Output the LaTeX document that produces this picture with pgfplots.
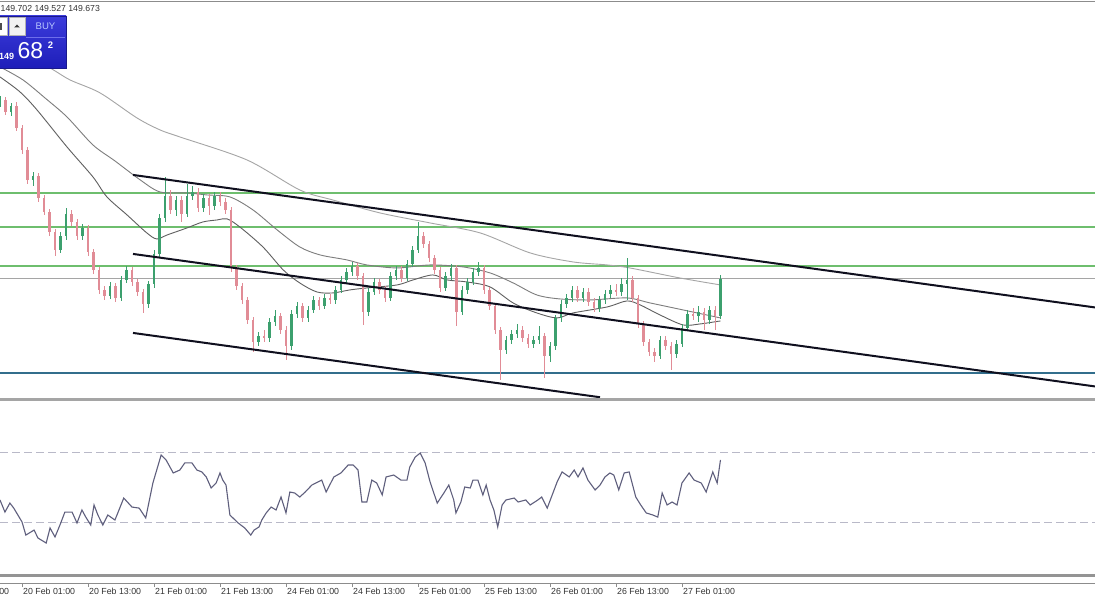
\documentclass[border=0pt]{standalone}
\usepackage{pgfplots}
\pgfplotsset{compat=1.18}
\usepackage{pgfplotstable}
\usepackage{fontspec}
\setmainfont{Liberation Sans}
\definecolor{cgreen}{RGB}{60,160,110}
\definecolor{cred}{RGB}{225,140,150}
\definecolor{maA}{RGB}{95,95,95}
\definecolor{maB}{RGB}{125,125,125}
\definecolor{maC}{RGB}{165,165,165}
\definecolor{hgreen}{RGB}{110,190,110}
\definecolor{hteal}{RGB}{50,110,140}
\definecolor{bidgray}{RGB}{165,165,165}
\definecolor{trendc}{RGB}{15,15,30}
\definecolor{rsic}{RGB}{95,95,125}
\definecolor{rsilev}{RGB}{185,185,200}
\definecolor{sepgray}{RGB}{165,165,165}
\definecolor{buyTop}{RGB}{60,60,220}
\definecolor{buyBot}{RGB}{30,30,185}
\definecolor{buyEdge}{RGB}{25,25,140}
\definecolor{buyLine}{RGB}{110,110,235}
\definecolor{buyText}{RGB}{185,200,255}

\pgfplotstableread{
i o h l c
-4 151.42 151.50 151.39 151.46
-3 151.46 151.49 151.31 151.34
-2 151.34 151.43 151.30 151.40
-1 151.40 151.44 151.15 151.18
0 151.18 151.21 150.92 150.96
1 150.96 150.99 150.62 150.66
2 150.66 150.74 150.60 150.70
3 150.70 150.73 150.44 150.48
4 150.48 150.51 150.31 150.34
5 150.34 150.37 150.10 150.14
6 150.14 150.17 149.90 149.96
7 149.96 150.14 149.93 150.10
8 150.10 150.38 150.06 150.32
9 150.32 150.36 150.20 150.24
10 150.24 150.27 150.06 150.10
11 150.10 150.22 150.06 150.18
12 150.18 150.21 149.90 149.94
13 149.94 149.97 149.72 149.76
14 149.76 149.79 149.52 149.56
15 149.56 149.60 149.46 149.50
16 149.50 149.64 149.47 149.60
17 149.60 149.63 149.44 149.48
18 149.48 149.70 149.45 149.66
19 149.66 149.80 149.63 149.76
20 149.76 149.79 149.60 149.64
21 149.64 149.67 149.50 149.54
22 149.54 149.57 149.33 149.42
23 149.42 149.65 149.38 149.62
24 149.62 149.96 149.58 149.92
25 149.92 150.32 149.88 150.28
26 150.28 150.69 150.24 150.50
27 150.50 150.56 150.32 150.36
28 150.36 150.50 150.30 150.46
29 150.46 150.50 150.24 150.32
30 150.32 150.62 150.29 150.50
31 150.50 150.60 150.46 150.54
32 150.54 150.58 150.34 150.38
33 150.38 150.52 150.34 150.48
34 150.48 150.52 150.31 150.40
35 150.40 150.54 150.36 150.50
36 150.50 150.54 150.40 150.44
37 150.44 150.48 150.32 150.36
38 150.36 150.39 149.74 149.78
39 149.78 149.81 149.56 149.60
40 149.60 149.63 149.42 149.46
41 149.46 149.49 149.22 149.26
42 149.26 149.29 148.94 149.04
43 149.04 149.14 149.00 149.10
44 149.10 149.16 149.04 149.08
45 149.08 149.28 149.04 149.24
46 149.24 149.36 149.20 149.30
47 149.30 149.33 149.12 149.16
48 149.16 149.20 148.86 149.00
49 149.00 149.36 148.96 149.32
50 149.32 149.44 149.28 149.40
51 149.40 149.43 149.24 149.28
52 149.28 149.40 149.24 149.36
53 149.36 149.50 149.33 149.46
54 149.46 149.49 149.36 149.40
55 149.40 149.52 149.37 149.48
56 149.48 149.52 149.42 149.46
57 149.46 149.60 149.42 149.56
58 149.56 149.70 149.53 149.66
59 149.66 149.78 149.63 149.74
60 149.74 149.84 149.70 149.80
61 149.80 149.83 149.66 149.70
62 149.70 149.73 149.21 149.34
63 149.34 149.58 149.30 149.54
64 149.54 149.68 149.51 149.64
65 149.64 149.67 149.52 149.56
66 149.56 149.60 149.44 149.48
67 149.48 149.74 149.45 149.70
68 149.70 149.80 149.66 149.76
69 149.76 149.80 149.64 149.68
70 149.68 149.86 149.65 149.82
71 149.82 150.00 149.79 149.96
72 149.96 150.24 149.93 150.10
73 150.10 150.14 149.98 150.02
74 150.02 150.05 149.84 149.88
75 149.88 149.91 149.72 149.76
76 149.76 149.79 149.54 149.58
77 149.58 149.74 149.55 149.70
78 149.70 149.82 149.66 149.78
79 149.78 149.81 149.20 149.34
80 149.34 149.60 149.31 149.56
81 149.56 149.68 149.52 149.64
82 149.64 149.78 149.61 149.74
83 149.74 149.84 149.70 149.78
84 149.78 149.81 149.52 149.56
85 149.56 149.59 149.36 149.40
86 149.40 149.43 149.12 149.16
87 149.16 149.19 148.66 148.96
88 148.96 149.10 148.92 149.06
89 149.06 149.16 149.02 149.12
90 149.12 149.22 149.08 149.16
91 149.16 149.20 149.04 149.08
92 149.08 149.12 148.98 149.02
93 149.02 149.10 148.98 149.06
94 149.06 149.20 149.02 149.10
95 149.10 149.13 148.68 148.90
96 148.90 149.04 148.84 149.00
97 149.00 149.31 148.96 149.28
98 149.28 149.46 149.24 149.42
99 149.42 149.52 149.38 149.48
100 149.48 149.60 149.44 149.56
101 149.56 149.60 149.44 149.48
102 149.48 149.58 149.44 149.54
103 149.54 149.58 149.40 149.44
104 149.44 149.48 149.34 149.38
105 149.38 149.50 149.34 149.46
106 149.46 149.56 149.42 149.52
107 149.52 149.61 149.48 149.56
108 149.56 149.62 149.50 149.54
109 149.54 149.68 149.50 149.62
110 149.62 149.88 149.46 149.66
111 149.66 149.70 149.44 149.48
112 149.48 149.51 149.18 149.22
113 149.22 149.25 149.00 149.04
114 149.04 149.07 148.90 148.94
115 148.94 148.98 148.84 148.90
116 148.90 149.10 148.87 149.06
117 149.06 149.10 148.96 149.00
118 149.00 149.04 148.76 148.92
119 148.92 149.06 148.88 149.02
120 149.02 149.22 148.99 149.18
121 149.18 149.36 149.15 149.32
122 149.32 149.38 149.26 149.30
123 149.30 149.40 149.24 149.34
124 149.34 149.38 149.16 149.26
125 149.26 149.40 149.22 149.36
126 149.36 149.40 149.16 149.30
127 149.30 149.71 149.27 149.67
}\candles

\pgfplotstableread{
i p
-4 151.69
-0.36 151.54
2.73 151.36
8.18 150.99
12.9 150.69
15.45 150.49
19.1 150.31
22.7 150.13
24.5 150.07
26.4 150.11
30.0 150.18
32.9 150.24
35.5 150.26
37.3 150.27
39.6 150.19
43.8 149.99
47.5 149.76
50.5 149.63
53.6 149.54
56.5 149.53
59.6 149.56
62.7 149.58
68.2 149.61
71.1 149.66
74.7 149.71
77.3 149.66
80.9 149.64
85.1 149.59
89.3 149.43
93.6 149.33
97.3 149.28
100.2 149.33
106.4 149.39
110.0 149.45
112.4 149.41
116.0 149.31
120.2 149.21
123.3 149.22
127 149.25
}\maA

\pgfplotstableread{
i p
-4 151.79
0.18 151.66
4.18 151.48
8.18 151.29
12.9 151.01
16.9 150.85
21.5 150.66
25.1 150.54
30.0 150.53
33.6 150.51
37.8 150.49
42.0 150.36
46.4 150.16
50.5 149.99
54.2 149.91
59.1 149.86
62.7 149.81
68.2 149.78
74.2 149.81
80.2 149.79
85.1 149.73
89.3 149.63
93.6 149.51
97.8 149.47
103.3 149.46
110.0 149.48
114.2 149.43
120.2 149.36
127 149.28
}\maB

\pgfplotstableread{
i p
-4 152.06
5.09 151.78
8.73 151.66
14.2 151.53
20.9 151.28
25.1 151.16
28.7 151.09
40.9 150.86
50.5 150.56
56.5 150.46
65.1 150.33
74.2 150.23
83.3 150.13
92.4 149.93
100.2 149.84
106.4 149.81
110.5 149.78
119.6 149.68
127 149.61
}\maC

\pgfplotstableread{
i r
-4 42.8
-3.1 35.8
-2.2 41.0
-1.5 38.1
0 30.1
0.7 22.5
2.2 25.4
2.9 20.8
4.4 17.9
5.1 26.6
6.0 21.4
6.9 28.3
7.8 35.8
9.1 35.8
10.0 29.5
10.9 37.0
11.6 32.9
12.5 28.3
13.1 39.9
13.8 34.1
14.7 28.3
15.6 34.1
16.9 31.2
18.5 43.9
20.0 38.7
21.3 38.1
22.5 32.4
23.8 52.6
25.3 68.8
26.2 65.9
27.5 58.4
28.7 60.1
29.6 64.2
30.9 64.2
31.8 60.1
32.7 59.0
33.5 56.1
34.4 49.7
35.3 52.6
36.0 58.4
36.5 54.3
37.1 51.4
37.8 34.1
39.3 29.5
40.5 26.6
41.6 22.5
42.2 25.4
43.1 27.2
43.6 31.2
44.4 35.3
45.3 38.7
46.2 37.0
47.1 44.5
48.0 35.3
48.7 47.4
49.6 46.8
50.5 44.5
51.5 47.4
52.7 51.4
54.5 54.3
55.3 47.4
56.7 56.1
58.0 58.4
59.3 63.0
60.2 63.0
61.1 60.1
61.8 41.6
62.7 41.6
63.6 54.3
64.5 52.6
65.5 45.7
66.2 56.1
67.6 57.2
68.9 54.3
70.0 54.3
70.5 61.8
71.5 67.6
72.4 69.9
73.3 64.2
74.2 53.2
75.5 41.0
76.7 46.8
77.6 51.4
78.5 42.8
78.9 35.3
79.8 41.6
80.5 50.3
81.5 49.7
82.0 54.3
82.9 54.3
83.8 45.7
84.4 51.4
85.1 42.8
85.8 37.0
86.5 27.2
87.3 39.9
88.0 42.8
89.5 43.9
90.2 41.6
91.6 42.8
92.4 39.9
93.8 42.8
94.5 44.5
95.5 38.1
97.3 53.2
98.2 59.0
99.5 56.1
100.4 60.1
101.1 56.1
102.0 61.3
102.9 54.3
104.2 48.6
105.1 51.4
106.0 56.1
106.9 58.4
107.6 57.2
108.5 48.6
109.5 58.4
110.4 59.0
111.6 44.5
112.5 39.9
113.5 35.3
114.7 34.1
115.6 32.9
116.4 46.8
117.3 39.9
118.2 41.6
119.1 39.9
120.0 52.6
121.3 58.4
122.2 54.3
123.5 52.6
124.4 47.4
125.6 59.0
126.4 52.6
127 65.9
}\rsi

\begin{document}
\begin{tikzpicture}
\path[use as bounding box] (0pt,0pt) rectangle (1095pt,600pt);
\fill[white] (0pt,0pt) rectangle (1095pt,600pt);

% ---------------- main price panel ----------------
\begin{axis}[at={(0pt,202pt)}, anchor=south west, scale only axis,
  width=1095pt, height=396pt,
  xmin=-4, xmax=195.1, ymin=148.48, ymax=152.44,
  hide axis, clip=true]
% horizontal levels
\addplot[hgreen, line width=1.2pt] coordinates {(-4,150.53) (195.1,150.53)};
\addplot[hgreen, line width=1.2pt] coordinates {(-4,150.19) (195.1,150.19)};
\addplot[hgreen, line width=1.2pt] coordinates {(-4,149.80) (195.1,149.80)};
\addplot[bidgray, line width=1pt] coordinates {(-4,149.67) (195.1,149.67)};
\addplot[hteal, line width=1.5pt] coordinates {(-4,148.73) (195.1,148.73)};
% moving averages
\addplot[maC, line width=0.9pt, smooth] table[x=i, y=p] {\maC};
\addplot[maB, line width=0.9pt, smooth] table[x=i, y=p] {\maB};
\addplot[maA, line width=0.9pt, smooth] table[x=i, y=p] {\maA};
% candles: wicks (up = green, down = red; the other kind is sent far below the axis and clipped)
\addplot[draw=none, mark=none,
  error bars/.cd, y dir=both, y explicit, error mark=none,
  error bar style={solid, draw=cgreen, line width=0.9pt}]
  table[x=i, y expr={\thisrow{c}>=\thisrow{o} ? (\thisrow{h}+\thisrow{l})/2 : 100},
        y error expr={(\thisrow{h}-\thisrow{l})/2}] {\candles};
\addplot[draw=none, mark=none,
  error bars/.cd, y dir=both, y explicit, error mark=none,
  error bar style={solid, draw=cred, line width=0.9pt}]
  table[x=i, y expr={\thisrow{c}<\thisrow{o} ? (\thisrow{h}+\thisrow{l})/2 : 100},
        y error expr={(\thisrow{h}-\thisrow{l})/2}] {\candles};
% candles: bodies
\addplot[draw=none, mark=none,
  error bars/.cd, y dir=both, y explicit, error mark=none,
  error bar style={solid, draw=cgreen, line width=2.7pt}]
  table[x=i, y expr={\thisrow{c}>=\thisrow{o} ? (\thisrow{o}+\thisrow{c})/2 : 100},
        y error expr={abs(\thisrow{c}-\thisrow{o})/2+0.004}] {\candles};
\addplot[draw=none, mark=none,
  error bars/.cd, y dir=both, y explicit, error mark=none,
  error bar style={solid, draw=cred, line width=2.7pt}]
  table[x=i, y expr={\thisrow{c}<\thisrow{o} ? (\thisrow{o}+\thisrow{c})/2 : 100},
        y error expr={abs(\thisrow{c}-\thisrow{o})/2+0.004}] {\candles};
% trend channel
\addplot[trendc, line width=2pt] coordinates {(20.18,150.71) (195.1,149.385)};
\addplot[trendc, line width=2pt] coordinates {(20.18,149.92) (195.1,148.595)};
\addplot[trendc, line width=2pt] coordinates {(20.18,149.13) (105.1,148.487)};
\end{axis}

% ---------------- RSI panel ----------------
\begin{axis}[at={(0pt,26pt)}, anchor=south west, scale only axis,
  width=1095pt, height=173pt,
  xmin=-4, xmax=195.1, ymin=0, ymax=100,
  hide axis, clip=true]
\addplot[rsilev, line width=1pt, dash pattern=on 8pt off 4pt] coordinates {(-4,70) (195.1,70)};
\addplot[rsilev, line width=1pt, dash pattern=on 8pt off 4pt] coordinates {(-4,30) (195.1,30)};
\addplot[rsic, line width=1.1pt] table[x=i, y=r] {\rsi};
\end{axis}

% ---------------- time axis ----------------
\begin{axis}[at={(0pt,17pt)}, anchor=south west, scale only axis,
  width=1095pt, height=3pt,
  xmin=-4, xmax=195.1, ymin=0, ymax=1,
  axis x line*=bottom, hide y axis,
  x axis line style={-, draw=black!45, line width=0.8pt},
  xtick={0,12,24,36,48,60,72,84,96,108,120},
  xticklabels={20 Feb 01:00,20 Feb 13:00,21 Feb 01:00,21 Feb 13:00,24 Feb 01:00,24 Feb 13:00,25 Feb 01:00,25 Feb 13:00,26 Feb 01:00,26 Feb 13:00,27 Feb 01:00},
  tick align=outside, major tick length=4pt,
  xtick style={draw=black!45, line width=0.8pt},
  xticklabel style={anchor=north west, inner sep=0pt, xshift=1pt, yshift=-1pt,
    font=\fontsize{8.8}{10}\selectfont, text=black!80}]
\addplot[draw=none] coordinates {(0,0.5)};
\end{axis}
\node[anchor=north west, inner sep=0pt, font=\fontsize{8.8}{10}\selectfont, text=black!80] at (-43pt,12pt) {19 Feb 13:00};

% separators and borders
\draw[black!45, line width=1pt] (0pt,598.3pt) -- (1095pt,598.3pt);
\draw[sepgray, line width=3pt] (0pt,200.5pt) -- (1095pt,200.5pt);
\draw[sepgray!90!black, line width=3pt] (0pt,24.5pt) -- (1095pt,24.5pt);

% quote line
\node[anchor=base west, inner sep=0pt, font=\fontsize{8.7}{10}\selectfont, text=black!80] at (0.5pt,588.6pt) {149.702 149.527 149.673};

% one-click trading panel
\shade[top color=buyTop, bottom color=buyBot, draw=buyEdge, line width=0.8pt] (-3pt,532pt) rectangle (66pt,584pt);
\fill[white, draw=black!30, line width=0.5pt] (-3pt,565pt) rectangle (7pt,583pt);
\fill[black!70] (-1pt,570pt) rectangle (2pt,577pt);
\fill[black!5, draw=black!30, line width=0.5pt] (9pt,565pt) rectangle (25pt,583pt);
\fill[black!80] (14.2pt,572.5pt) -- (19.8pt,572.5pt) -- (17pt,575.5pt) -- cycle;
\draw[buyLine, line width=0.6pt] (26pt,562.5pt) -- (65pt,562.5pt);
\node[font=\fontsize{9.6}{11}\selectfont, text=buyText, inner sep=0pt] at (45.5pt,574pt) {BUY};
\node[anchor=base west, font=\bfseries\fontsize{9}{10}\selectfont, text=white, inner sep=0pt] at (-1pt,540.5pt) {149};
\node[anchor=base west, font=\fontsize{23}{24}\selectfont, text=white, inner sep=0pt] at (17.5pt,541pt) {68};
\node[font=\bfseries\fontsize{9.5}{10}\selectfont, text=white, inner sep=0pt] at (50.5pt,555pt) {2};
\end{tikzpicture}
\end{document}
